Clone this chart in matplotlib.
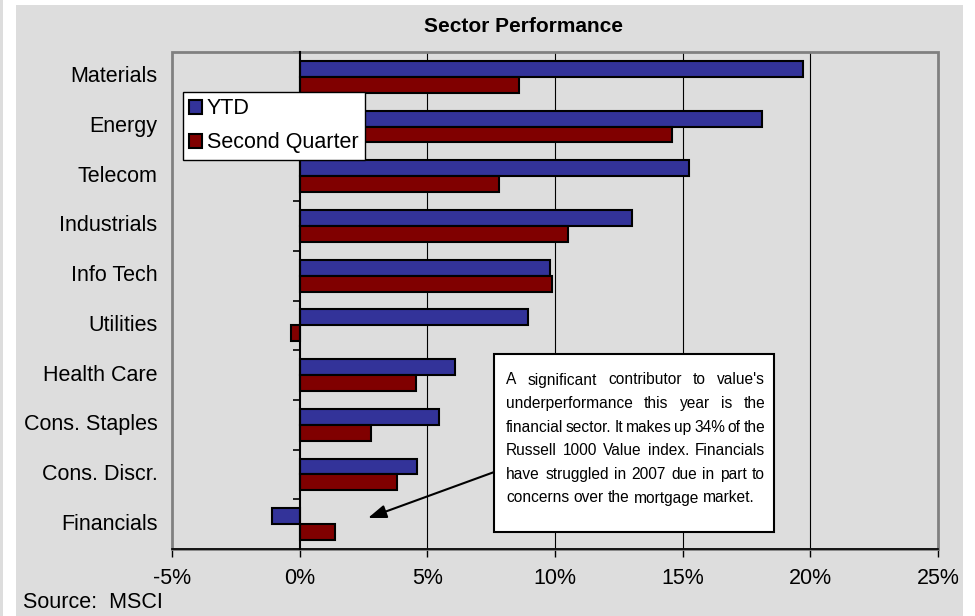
import numpy as np
import matplotlib
matplotlib.use("Agg")
import matplotlib.pyplot as plt
from matplotlib.patches import Rectangle, Patch

plt.rcParams['font.family'] = ['Liberation Sans', 'DejaVu Sans']

# Datos del gráfico
sectores = ["Materials", "Energy", "Telecom", "Industrials", "Info Tech",
            "Utilities", "Health Care", "Cons. Staples", "Cons. Discr.", "Financials"]
ytd = [19.7, 18.1, 15.25, 13.0, 9.8, 8.95, 6.1, 5.45, 4.6, -1.1]
segundo_trim = [8.6, 14.6, 7.8, 10.5, 9.9, -0.35, 4.55, 2.8, 3.8, 1.4]
ticks_x = [-5, 0, 5, 10, 15, 20, 25]
etiquetas_x = ["-5%", "0%", "5%", "10%", "15%", "20%", "25%"]
nota = ["A significant contributor to value's",
        "underperformance this year is the",
        "financial sector.  It makes up 34% of the",
        "Russell 1000 Value index.  Financials",
        "have struggled in 2007 due in part to",
        "concerns over the mortgage market."]

W, H = 975, 616
GRIS = "#dddddd"
FS = 15.5


def fx(px):
    return px / W


def fy(py):
    return 1 - py / H


fig = plt.figure(figsize=(W / 100, H / 100), dpi=100)
fig.patch.set_facecolor("white")
# fondo gris del gráfico
fig.patches.append(Rectangle((fx(16), 0), fx(963) - fx(16), fy(5), transform=fig.transFigure,
                             facecolor=GRIS, edgecolor="none", zorder=-10))
fig.patches.append(Rectangle((0, 0), fx(3), 1, transform=fig.transFigure,
                             facecolor=GRIS, edgecolor="none", zorder=-10))

ax = fig.add_axes([fx(172), fy(549), fx(938) - fx(172), fy(52) - fy(549)])
ax.set_facecolor(GRIS)

y = np.arange(len(sectores))
alto = 0.32
ax.barh(y - alto / 2, ytd, height=alto, color="#333399", edgecolor="black", linewidth=1.5,
        label="YTD", zorder=3)
ax.barh(y + alto / 2, segundo_trim, height=alto, color="#800000", edgecolor="black",
        linewidth=1.5, label="Second Quarter", zorder=3)

ax.set_xlim(-5, 25)
ax.set_ylim(len(sectores) - 0.5, -0.5)

# rejilla vertical
for v in [5, 10, 15, 20]:
    ax.axvline(v, color="black", linewidth=0.8, zorder=1)

# borde gris
ax.add_patch(Rectangle((0, 0), 1, 1, transform=ax.transAxes, fill=False,
                       edgecolor="#808080", linewidth=2, zorder=2, clip_on=False))

for s in ["top", "right"]:
    ax.spines[s].set_visible(False)
ax.spines["left"].set_position(("data", 0))
ax.spines["left"].set_linewidth(1.5)
ax.spines["left"].set_zorder(4)
ax.spines["bottom"].set_linewidth(1.2)
ax.spines["bottom"].set_zorder(4)

ax.set_yticks(np.arange(-0.5, len(sectores), 1.0))
ax.set_yticklabels([])
ax.tick_params(axis="y", direction="out", length=5, width=1.2, color="black")
ax.set_xticks(ticks_x)
ax.set_xticklabels(etiquetas_x, fontsize=FS)
ax.tick_params(axis="x", direction="out", length=6, width=1, pad=8)

for i, nombre in enumerate(sectores):
    ax.text(-0.019, i, nombre, transform=ax.get_yaxis_transform(), ha="right", va="center",
            fontsize=FS)

fig.text(fx(524), fy(27), "Sector Performance", ha="center", va="center", fontsize=15,
         fontweight="bold")
fig.text(fx(23), fy(603), "Source:  MSCI", ha="left", va="center", fontsize=FS)

# leyenda
manejadores = [Patch(facecolor="#333399", edgecolor="black", linewidth=1.5),
               Patch(facecolor="#800000", edgecolor="black", linewidth=1.5)]
ley = ax.legend(manejadores, ["YTD", "Second Quarter"], loc="upper left",
                bbox_to_anchor=(fx(183), fy(92)), bbox_transform=fig.transFigure,
                borderaxespad=0, fontsize=FS, frameon=True, fancybox=False,
                handlelength=0.6, handleheight=0.6, handletextpad=0.2,
                labelspacing=0.6, borderpad=0.3)
ley.get_frame().set_edgecolor("black")
ley.get_frame().set_linewidth(1)
ley.get_frame().set_alpha(1)
ley.set_zorder(6)

# caja de texto
fig.patches.append(Rectangle((fx(494), fy(532)), fx(774) - fx(494), fy(354) - fy(532),
                             transform=fig.transFigure, facecolor="white", edgecolor="black",
                             linewidth=1.5, zorder=5))

# texto justificado palabra por palabra
izq, der = 506, 765
fig.canvas.draw()
renderer = fig.canvas.get_renderer()


def medir(texto, tam):
    t = fig.text(0, 0, texto, fontsize=tam)
    w = t.get_window_extent(renderer).width
    t.remove()
    return w


# tamaño común que permita que todas las líneas quepan
tam = 11.6
while tam > 9:
    espacio = medir("a b", tam) - medir("ab", tam)
    ok = True
    for linea in nota[:-1]:
        palabras = linea.split()
        ancho = sum(medir(p, tam) for p in palabras)
        if (der - izq - ancho) / (len(palabras) - 1) < espacio * 0.6:
            ok = False
            break
    if ok:
        break
    tam -= 0.1

espacio = medir("a b", tam) - medir("ab", tam)
for n, linea in enumerate(nota):
    yl = 380 + n * 23.6
    palabras = linea.split()
    anchos = [medir(p, tam) for p in palabras]
    if n < len(nota) - 1:
        hueco = (der - izq - sum(anchos)) / (len(palabras) - 1)
    else:
        hueco = espacio
    xpos = izq
    for p, a in zip(palabras, anchos):
        fig.text(fx(xpos), fy(yl), p, fontsize=tam, va="center", ha="left", zorder=7)
        xpos += a + hueco

ax.annotate("", xy=(fx(368), fy(518)), xycoords="figure fraction",
            xytext=(fx(497), fy(471)), textcoords="figure fraction",
            arrowprops=dict(arrowstyle="-|>,head_length=1.1,head_width=0.4", color="black",
                            linewidth=1.5, shrinkA=0, shrinkB=0),
            zorder=6)

fig.savefig("out.png", dpi=100)
